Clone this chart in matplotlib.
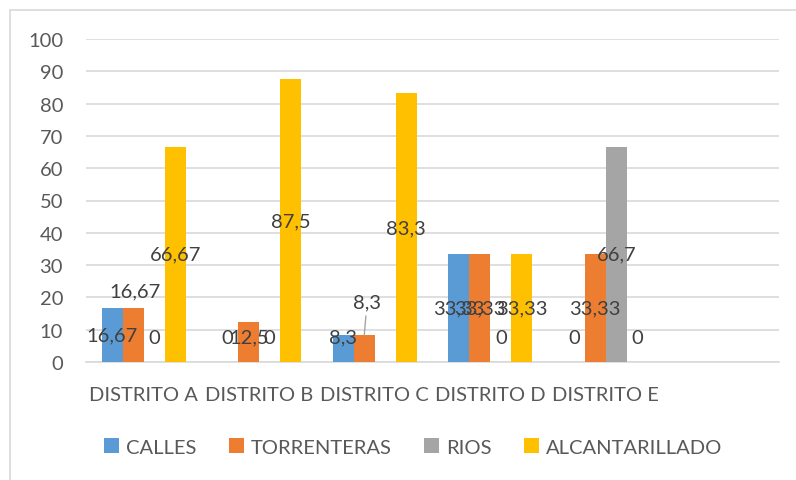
import matplotlib
matplotlib.use("Agg")
import matplotlib.pyplot as plt
import matplotlib.patches as mpatches
import numpy as np

plt.rcParams['font.family'] = ['Lato', 'DejaVu Sans']

categories = ["DISTRITO A", "DISTRITO B", "DISTRITO C", "DISTRITO D", "DISTRITO E"]
series_names = ["CALLES", "TORRENTERAS", "RIOS", "ALCANTARILLADO"]
calles = [16.67, 0, 8.3, 33.33, 0]
torrenteras = [16.67, 12.5, 8.3, 33.33, 33.33]
rios = [0, 0, 0, 0, 66.7]
alcantarillado = [66.67, 87.5, 83.3, 33.33, 0]
label_texts = {
    "CALLES": ["16,67", "0", "8,3", "33,33", "0"],
    "TORRENTERAS": ["16,67", "12,5", "8,3", "33,33", "33,33"],
    "RIOS": ["0", "0", "", "0", "66,7"],
    "ALCANTARILLADO": ["66,67", "87,5", "83,3", "33,33", "0"],
}
colors = ["#5B9BD5", "#ED7D31", "#A5A5A5", "#FFC000"]
yticks = [0, 10, 20, 30, 40, 50, 60, 70, 80, 90, 100]

series_values = [calles, torrenteras, rios, alcantarillado]
n_slots = 6  # the category axis has one empty slot at the right
bar_w = 1 / 5.5
min_label_y = 7.7  # labels are kept inside plot area

fig = plt.figure(figsize=(7.96, 4.81), dpi=100)
ax = fig.add_axes([86 / 796, 1 - 363 / 481, (779 - 86) / 796, (363 - 40) / 481])

x = np.arange(len(categories))
txt_color = "#404040"
tick_color = "#595959"
fs = 14.5

for j, (name, vals, col) in enumerate(zip(series_names, series_values, colors)):
    xs = x + (j - 1.5) * bar_w
    ax.bar(xs, vals, width=bar_w, color=col, label=name, zorder=3)
    for i, (xi, v) in enumerate(zip(xs, vals)):
        t = label_texts[name][i]
        if not t:
            continue
        if name == "TORRENTERAS" and i == 0:
            ax.annotate(t, xy=(xi, v), xytext=(2, 17), textcoords="offset pixels",
                        ha="center", va="center", color=txt_color, fontsize=fs, zorder=5)
        elif name == "TORRENTERAS" and i == 2:
            ax.annotate(t, xy=(xi, v), xytext=(xi + 0.025, 18.6), textcoords="data",
                        ha="center", va="center", color=txt_color, fontsize=fs, zorder=5,
                        arrowprops=dict(arrowstyle="-", color="#A6A6A6", lw=1,
                                        shrinkA=2, shrinkB=0))
        else:
            ax.text(xi, max(v / 2, min_label_y), t, ha="center", va="center",
                    color=txt_color, fontsize=fs, zorder=5)

ax.set_xlim(-0.5, n_slots - 0.5)
ax.set_ylim(0, 100)
ax.set_yticks(yticks)
ax.set_yticklabels([str(v) for v in yticks])
ax.set_xticks(x)
ax.set_xticklabels(categories)
ax.tick_params(axis="y", length=0, pad=16.5, labelsize=fs, labelcolor=tick_color)
ax.tick_params(axis="x", length=0, pad=17, labelsize=fs, labelcolor=tick_color)
ax.yaxis.grid(True, color="#D9D9D9", lw=1.2, zorder=0)
ax.set_axisbelow(True)
for s in ["top", "right", "left"]:
    ax.spines[s].set_visible(False)
ax.spines["bottom"].set_color("#D9D9D9")
ax.spines["bottom"].set_linewidth(1.2)
ax.spines["bottom"].set_zorder(1)

leg = fig.legend(loc="center", bbox_to_anchor=(413 / 796, 1 - 448 / 481), ncol=4,
                 frameon=False, fontsize=fs, handlelength=0.75, handleheight=0.75,
                 handletextpad=0.35, columnspacing=1.6, labelcolor=tick_color)

border = mpatches.Rectangle((10 / 796, -0.1), 1.2, 1 - 11 / 481 + 0.1,
                            transform=fig.transFigure, fill=False,
                            edgecolor="#D9D9D9", lw=1.2, zorder=0)
fig.patches.append(border)

fig.savefig("out.png", dpi=100)
